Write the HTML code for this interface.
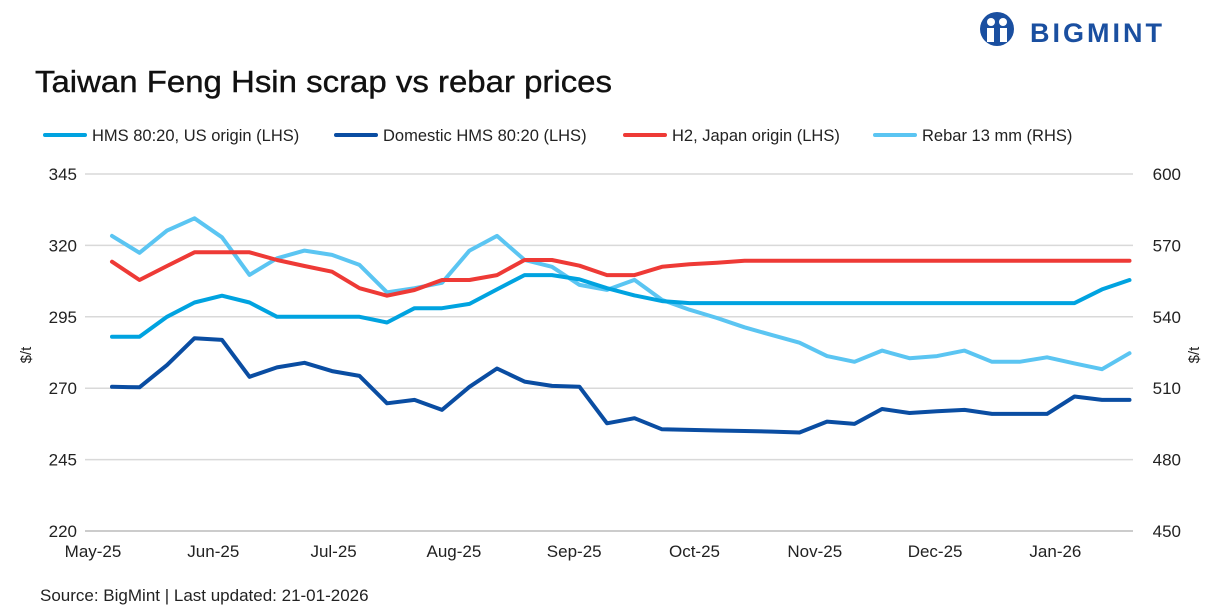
<!DOCTYPE html>
<html><head><meta charset="utf-8"><style>
body{margin:0;background:#fff;font-family:"Liberation Sans",sans-serif;}
svg text{font-family:"Liberation Sans",sans-serif;}
</style></head><body>
<svg id="chart" width="1210" height="611" viewBox="0 0 1210 611">
<g>
<circle cx="997" cy="29" r="17" fill="#1a4fa0"/>
<circle cx="991" cy="22" r="4" fill="#fff"/><circle cx="1003" cy="22" r="4" fill="#fff"/>
<rect x="987" y="28" width="7" height="14" fill="#fff"/><rect x="1000" y="28" width="7" height="14" fill="#fff"/>
<text x="1030" y="42" font-size="27" font-weight="bold" fill="#1a4fa0" letter-spacing="3">BIGMINT</text>
</g>
<text x="35" y="92" font-size="31" fill="#111" stroke="#111" stroke-width="0.4" textLength="577" lengthAdjust="spacingAndGlyphs">Taiwan Feng Hsin scrap vs rebar prices</text>
<g id="legend"></g>
<g id="grid"></g>
<g id="series"></g>
<text transform="translate(31,355) rotate(-90)" font-size="15" text-anchor="middle" fill="#222">$/t</text>
<text transform="translate(1199,355) rotate(-90)" font-size="15" text-anchor="middle" fill="#222">$/t</text>
<text x="40" y="601" font-size="17" fill="#222">Source: BigMint |  Last updated: 21-01-2026</text>
</svg>
<script>
const months=["May-25","Jun-25","Jul-25","Aug-25","Sep-25","Oct-25","Nov-25","Dec-25","Jan-26"];
const leftTicks=[220,245,270,295,320,345];
const rightTicks=[450,480,510,540,570,600];
const hmsUS=[288,288,295,300,302.4,300,295,295,295,295,293,298,298,299.5,304.6,309.6,309.6,308.1,305,302.5,300.5,299.8,299.8,299.8,299.8,299.8,299.8,299.8,299.8,299.8,299.8,299.8,299.8,299.8,299.8,299.8,304.6,307.9];
const domestic=[270.5,270.3,278.1,287.5,286.9,274,277.3,278.9,276,274.3,264.7,265.9,262.4,270.5,276.9,272.3,270.8,270.5,257.7,259.5,255.6,255.4,255.2,255,254.8,254.5,258.3,257.5,262.7,261.3,261.9,262.4,261,261,261,267.1,265.9,265.9];
const h2=[314.3,307.9,312.8,317.6,317.6,317.6,314.9,312.8,310.8,305,302.4,304.4,307.9,307.9,309.6,314.9,314.9,312.9,309.6,309.6,312.5,313.4,313.9,314.6,314.6,314.6,314.6,314.6,314.6,314.6,314.6,314.6,314.6,314.6,314.6,314.6,314.6,314.6];
const rebar=[574,566.9,576.2,581.4,573.4,557.6,564.6,567.8,566,561.8,550.3,552,554.3,567.8,574,563.9,561,553.4,551.3,555.5,547.1,543,539.5,535.6,532.3,529.1,523.5,521.1,525.8,522.6,523.5,525.8,521.1,521.1,523,520.4,518,524.7];
const seriesNames=["HMS 80:20, US origin (LHS)","Domestic HMS 80:20 (LHS)","H2, Japan origin (LHS)","Rebar 13 mm (RHS)"];
const NS="http://www.w3.org/2000/svg";
const plotTop=174,plotBot=531,x0=85,x1=1133;
const yL=v=>plotBot-(v-220)/125*(plotBot-plotTop);
const yR=v=>plotBot-(v-450)/150*(plotBot-plotTop);
const xI=i=>112+i*27.5;
const xM=i=>93+i*120.3;
function mk(tag,attrs,parent){const e=document.createElementNS(NS,tag);for(const k in attrs)e.setAttribute(k,attrs[k]);parent.appendChild(e);return e;}
const grid=document.getElementById('grid');
leftTicks.forEach((t,i)=>{
  const y=yL(t);
  const l=mk('line',{x1:x0,x2:x1,y1:y,y2:y,stroke:i==0?'#bbb':'#d9d9d9','stroke-width':1.5},grid);
  
  
  const tx=mk('text',{x:77,y:y+6,'font-size':17,'text-anchor':'end',fill:'#222'},grid);tx.textContent=t;
  
  
});
rightTicks.forEach(t=>{
  const tx=mk('text',{x:1181,y:yR(t)+6,'font-size':17,'text-anchor':'end',fill:'#222'},grid);tx.textContent=t;
  
  
});
months.forEach((m,i)=>{
  const tx=mk('text',{x:xM(i),y:557,'font-size':17,'text-anchor':'middle',fill:'#222'},grid);tx.textContent=m;
  
  
});
const cols=["#00a3e0","#0a4da2","#ee3a36","#5bc5f2"];
const data=[hmsUS,domestic,h2,rebar];
const scales=[yL,yL,yL,yR];
const names=["series-hms-us","series-domestic-hms","series-h2-japan","series-rebar"];
const ser=document.getElementById('series');
[3,0,2,1].forEach(k=>{
  const pts=data[k].map((v,i)=>xI(i).toFixed(1)+','+scales[k](v).toFixed(1)).join(' ');
  const p=mk('polyline',{points:pts,fill:'none',stroke:cols[k],'stroke-width':4,'stroke-linejoin':'round','stroke-linecap':'round'},ser);
  
  
});
const leg=document.getElementById('legend');
const lx=[45,336,625,875];
seriesNames.forEach((n,k)=>{
  const g=mk('g',{},leg);
  
  
  mk('line',{x1:lx[k],x2:lx[k]+40,y1:135,y2:135,stroke:cols[k],'stroke-width':4,'stroke-linecap':'round'},g);
  const t=mk('text',{x:lx[k]+47,y:141,'font-size':16.5,fill:'#222'},g);t.textContent=n;
});
</script>
</body></html>
